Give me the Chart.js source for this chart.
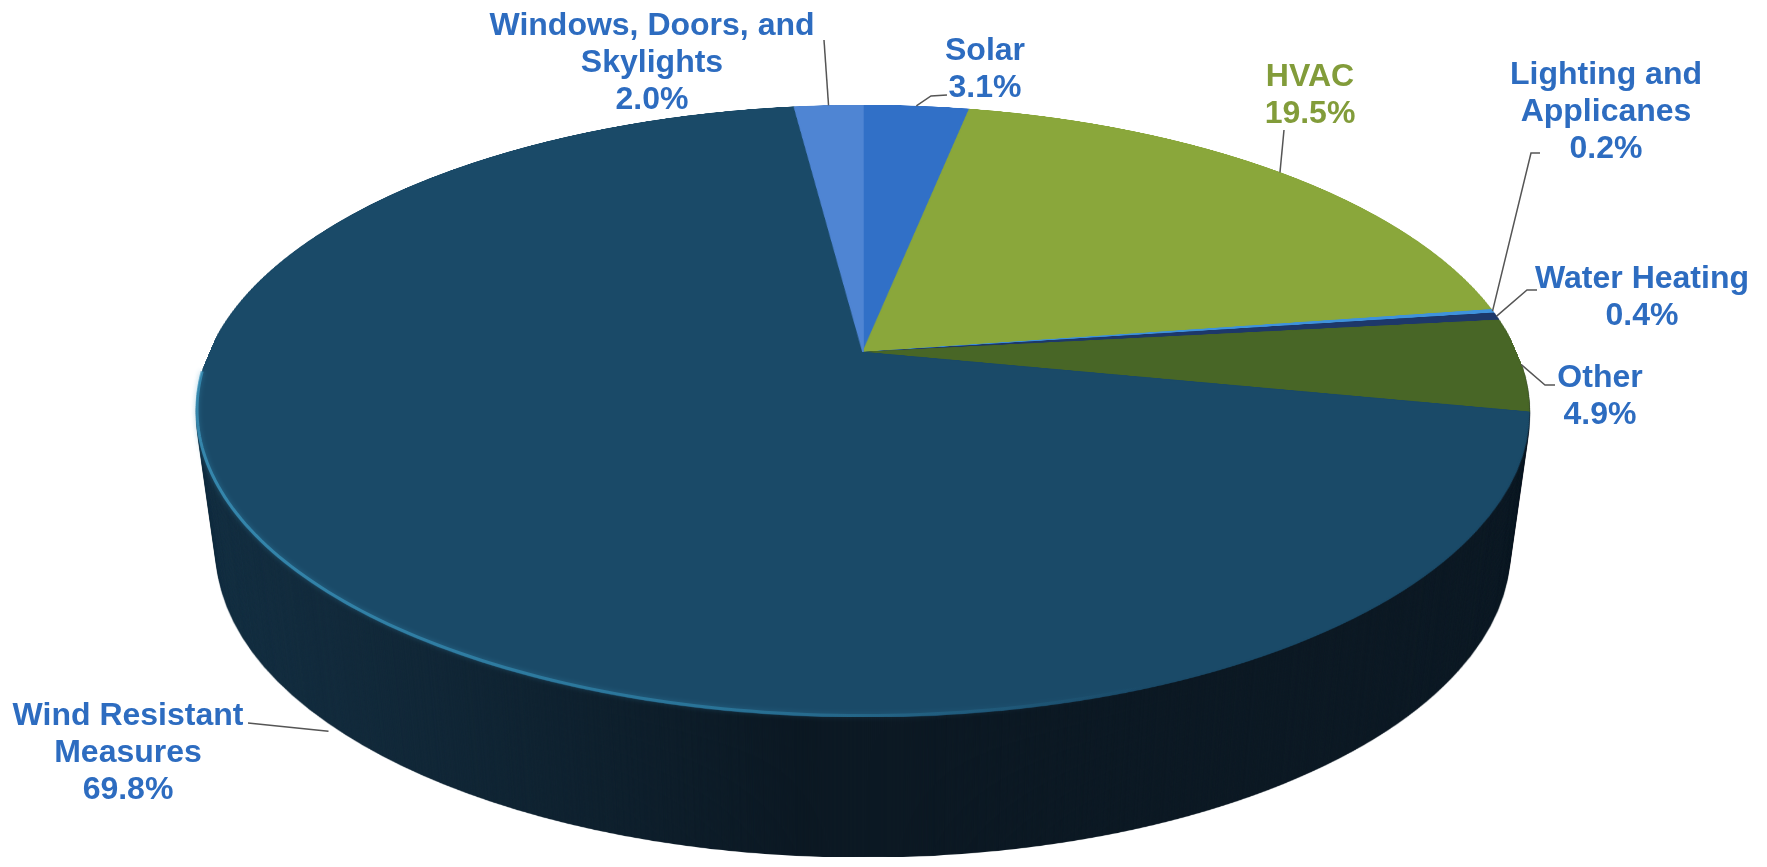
<!DOCTYPE html>
<html>
<head>
<meta charset="utf-8">
<title>Répartition des mesures</title>
<script src="https://cdn.jsdelivr.net/npm/chart.js@4.4.1/dist/chart.umd.min.js"></script>
<style>
  html, body { margin: 0; padding: 0; background: #fff; }
  canvas { display: block; }
</style>
</head>
<body>
<canvas id="pieChart" width="1767" height="867"></canvas>
<script>
// Données (sens horaire à partir de midi)
const categories = ['Solar', 'HVAC', 'Lighting and Applicanes', 'Water Heating', 'Other', 'Wind Resistant Measures', 'Windows, Doors, and Skylights'];
const shares = [3.1, 19.5, 0.2, 0.4, 4.9, 69.8, 2.0];
const labelLines = [['Solar'], ['HVAC'], ['Lighting and', 'Applicanes'], ['Water Heating'], ['Other'], ['Wind Resistant', 'Measures'], ['Windows, Doors, and', 'Skylights']];

// Couleurs
const sliceColors = ['#3170c7', '#8aa73b', '#3f93dc', '#1d386a', '#486626', '#1a4a68', '#4f85d3'];
const textColors = ['#2d6cc0', '#829c3a', '#2d6cc0', '#2d6cc0', '#2d6cc0', '#2d6cc0', '#2d6cc0'];

// Position des étiquettes : centre du texte, première ligne de base, coudes du trait
const labelLayout = [
    { x: 985, y: 60, leader: [[947, 95], [931, 96]] },
    { x: 1310, y: 86, leader: [[1284, 130]] },
    { x: 1606, y: 84, leader: [[1540, 153], [1531, 153]] },
    { x: 1642, y: 288, leader: [[1537, 290], [1527, 290]] },
    { x: 1600, y: 387, leader: [[1555, 385], [1545, 385]] },
    { x: 128, y: 725, leader: [[248, 723]], dx: 16, drop: 148 },
    { x: 652, y: 35, leader: [[824, 40]] }
];
const lineGap = 37;

// Projection en perspective du disque (haut, centre, avant, demi-largeur max, épaisseur)
const proj = { cx: 863, yFar: 105, yMid: 352, yNear: 717, halfWidth: 666, depth: 140 };

const P = (function() {
    const c = (proj.yNear + proj.yFar - 2 * proj.yMid) / (proj.yFar - proj.yNear);
    const b = proj.yMid;
    const a = b - proj.yFar + proj.yFar * c;
    const k = proj.halfWidth * Math.sqrt(1 - c * c);
    return { a, b, c, k };
})();

function project(u, v) {
    const w = 1 + P.c * v;
    return { x: proj.cx + u * P.k / w, y: (P.a * v + P.b) / w };
}

function rowToV(y) {
    return (y - P.b) / (P.a - y * P.c);
}

function makeCanvas(w, h) {
    const c = document.createElement('canvas');
    c.width = w;
    c.height = h;
    return c;
}

// Plugin : dessine les arcs de Chart.js hors écran puis les projette en 3D
const pie3d = {
    id: 'pie3d',
    beforeDatasetsDraw(chart) {
        const ctx = chart.ctx;
        const meta = chart.getDatasetMeta(0);
        const first = meta.data[0];
        const W = chart.width, H = chart.height;

        // disque à plat, en haute résolution
        const Rs = 720;
        const size = 2 * Rs + 8, oc = size / 2;
        const src = makeCanvas(size, size);
        const sctx = src.getContext('2d');
        const S = Rs / first.outerRadius;
        sctx.setTransform(S, 0, 0, S, oc - S * first.x, oc - S * first.y);
        meta.data.forEach(arc => arc.draw(sctx));

        // face supérieure, ligne par ligne
        const top = makeCanvas(W, H);
        const tctx = top.getContext('2d');
        for (let y = Math.floor(proj.yFar) - 1; y <= Math.ceil(proj.yNear); y++) {
            const v0 = Math.max(-1, rowToV(y));
            const v1 = Math.min(1, rowToV(y + 1));
            if (v1 <= v0) continue;
            const hw = P.k / (1 + P.c * (v0 + v1) / 2);
            tctx.drawImage(src, oc - Rs, oc + v0 * Rs, 2 * Rs, (v1 - v0) * Rs, proj.cx - hw, y, 2 * hw, 1);
        }

        // copie assombrie pour le flanc
        const dark = makeCanvas(W, H);
        const dctx = dark.getContext('2d');
        dctx.drawImage(top, 0, 0);
        dctx.globalCompositeOperation = 'source-atop';
        const g = dctx.createLinearGradient(proj.cx - proj.halfWidth, 0, proj.cx + proj.halfWidth, 0);
        g.addColorStop(0, 'rgba(20,42,58,0.80)');
        g.addColorStop(0.45, 'rgba(10,18,26,0.88)');
        g.addColorStop(1, 'rgba(12,20,28,0.88)');
        dctx.fillStyle = g;
        dctx.fillRect(0, 0, W, H);

        ctx.save();
        for (let d = proj.depth; d >= 1; d--) {
            const sx = 1 - 0.03 * d / proj.depth;
            ctx.setTransform(sx, 0, 0, 1, proj.cx * (1 - sx), d);
            ctx.drawImage(dark, 0, 0);
        }
        ctx.restore();

        ctx.drawImage(top, 0, 0);

        // reflet sur l'arête avant
        ctx.save();
        const hg = ctx.createLinearGradient(1150, 0, 200, 0);
        hg.addColorStop(0, 'rgba(45,130,170,0)');
        hg.addColorStop(0.45, 'rgba(50,140,180,0.55)');
        hg.addColorStop(1, 'rgba(60,150,190,0.75)');
        ctx.strokeStyle = hg;
        ctx.lineWidth = 3;
        ctx.shadowColor = 'rgba(60,150,190,0.6)';
        ctx.shadowBlur = 5;
        ctx.beginPath();
        for (let t = 140; t <= 266; t++) {
            const th = t * Math.PI / 180;
            const p = project(Math.sin(th), -Math.cos(th));
            if (t === 140) ctx.moveTo(p.x, p.y - 1.5); else ctx.lineTo(p.x, p.y - 1.5);
        }
        ctx.stroke();
        ctx.restore();

        return false;
    },
    afterDraw(chart) {
        const ctx = chart.ctx;
        const meta = chart.getDatasetMeta(0);
        ctx.save();
        meta.data.forEach((arc, i) => {
            const lay = labelLayout[i];
            const mid = (arc.startAngle + arc.endAngle) / 2;
            const p = project(Math.cos(mid), Math.sin(mid));
            const ax = p.x + (lay.dx || 0);
            const ay = p.y + (lay.drop || 0);

            // trait de rappel
            ctx.strokeStyle = '#555';
            ctx.lineWidth = 1.5;
            ctx.beginPath();
            lay.leader.forEach((pt, j) => j === 0 ? ctx.moveTo(pt[0], pt[1]) : ctx.lineTo(pt[0], pt[1]));
            ctx.lineTo(ax, ay);
            ctx.stroke();

            // texte
            const lines = labelLines[i].concat([shares[i].toFixed(1) + '%']);
            ctx.font = 'bold 32px "Liberation Sans", Arial, sans-serif';
            ctx.textAlign = 'center';
            ctx.textBaseline = 'alphabetic';
            ctx.fillStyle = textColors[i];
            lines.forEach((txt, j) => ctx.fillText(txt, lay.x, lay.y + j * lineGap));
        });
        ctx.restore();
    }
};

new Chart(document.getElementById('pieChart'), {
    type: 'pie',
    data: {
        labels: categories,
        datasets: [{
            data: shares,
            backgroundColor: sliceColors,
            borderColor: sliceColors,
            borderWidth: 1
        }]
    },
    options: {
        responsive: false,
        animation: false,
        plugins: {
            legend: { display: false },
            tooltip: { enabled: false }
        }
    },
    plugins: [pie3d]
});
</script>
</body>
</html>
